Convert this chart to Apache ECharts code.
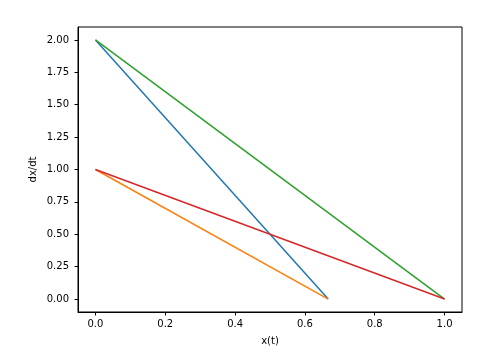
<!DOCTYPE html>
<html><head><meta charset="utf-8">
<script src="https://cdn.jsdelivr.net/npm/echarts@6/dist/echarts.min.js"></script>
<style>html,body{margin:0;padding:0;background:#fff}#c{width:485px;height:358px}</style>
</head><body><div id="c"></div>
<script>
const xTicks = [0.0, 0.2, 0.4, 0.6, 0.8, 1.0];
const yTicks = [0.0, 0.25, 0.5, 0.75, 1.0, 1.25, 1.5, 1.75, 2.0];
const seriesNames = ['a', 'b', 'c', 'd'];
const seriesX = [[0, 0.6667], [0, 0.6667], [0, 1.0], [0, 1.0]];
const seriesY = [[2.0, 0.0], [1.0, 0.0], [2.0, 0.0], [1.0, 0.0]];
const colors = ['#1f77b4', '#ff7f0e', '#2ca02c', '#d62728'];

const font = 'DejaVu Sans';
const chart = echarts.init(document.getElementById('c'), null, {renderer: 'canvas'});
chart.setOption({
  animation: false,
  backgroundColor: '#fff',
  grid: {left: 78, top: 27, right: 23, bottom: 46, show: true, borderColor: '#000', borderWidth: 1, backgroundColor: 'transparent'},
  xAxis: {
    type: 'value', min: -0.05, max: 1.05,
    name: 'x(t)', nameLocation: 'middle', nameGap: 24,
    nameTextStyle: {fontFamily: font, fontSize: 10, color: '#000'},
    axisLine: {show: true, onZero: false, lineStyle: {color: '#000', width: 1}},
    axisTick: {show: true, inside: false, length: 3.5, customValues: xTicks, lineStyle: {color: '#000'}},
    axisLabel: {customValues: xTicks, fontFamily: font, fontSize: 10, color: '#000', margin: 7,
      formatter: v => v.toFixed(1)},
    splitLine: {show: false}
  },
  yAxis: {
    type: 'value', min: -0.1, max: 2.1,
    name: 'dx/dt', nameLocation: 'middle', nameGap: 40, nameMoveOverlap: false,
    nameTextStyle: {fontFamily: font, fontSize: 10, color: '#000'},
    axisLine: {show: true, onZero: false, lineStyle: {color: '#000', width: 1}},
    axisTick: {show: true, inside: false, length: 3.5, customValues: yTicks, lineStyle: {color: '#000'}},
    axisLabel: {customValues: yTicks, fontFamily: font, fontSize: 10, color: '#000', margin: 9,
      formatter: v => v.toFixed(2)},
    splitLine: {show: false}
  },
  series: seriesNames.map((n, i) => ({
    name: n, type: 'line', showSymbol: false, symbol: 'none',
    data: seriesX[i].map((x, j) => [x, seriesY[i][j]]),
    lineStyle: {color: colors[i], width: 1.5},
    itemStyle: {color: colors[i]}
  }))
});
</script></body></html>
